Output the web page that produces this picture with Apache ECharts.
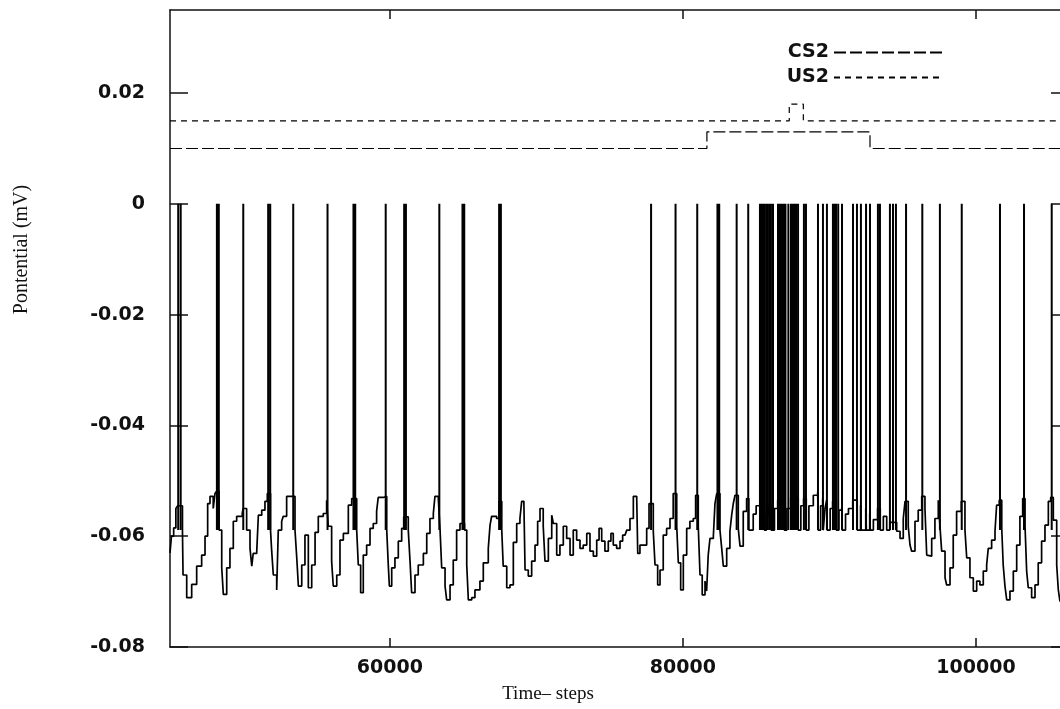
<!DOCTYPE html>
<html><head><meta charset="utf-8">
<script src="https://cdn.jsdelivr.net/npm/echarts@6/dist/echarts.min.js"></script>
<style>html,body{margin:0;padding:0;background:#fff;overflow:hidden}#c{width:1069px;height:709px}</style>
</head><body><div id="c"></div>
<script>
const xTicks = [60000, 80000, 100000];
const yTicks = [-0.08, -0.06, -0.04, -0.02, 0, 0.02];
const spikeTop = 0;
const spikeReset = -0.0589;
const spikeTimes = [45560, 45730, 48200, 48330, 50000, 51700, 51840, 53410, 55750, 57520, 57640, 59720,
  60980, 61100, 63380, 64960, 65080, 67460, 67580, 77830, 79500, 80980, 82360, 82480, 83670, 84460,
  85260, 85330, 85400, 85470, 85530, 85600, 85740, 85880, 85950, 86010, 86150, 86490, 86560, 86630, 86700,
  86760, 86830, 86900, 87000, 87200, 87380, 87450, 87510, 87580, 87650, 87720, 87860, 88260, 88400,
  89220, 89560, 89830, 90240, 90350, 90450, 90600, 90860, 91610, 91880, 92150, 92500, 92770, 93310, 93450,
  94130, 94340, 94540, 95230, 96340, 97540, 99030, 101640, 103280, 105170];
const trace = [
[45000,-0.0630],[45100,-0.0600],[45250,-0.0585],[45400,-0.0550],[45530,-0.0545],
[45850,-0.0589],[45890,-0.0670],[46140,-0.0711],[46480,-0.0687],[46820,-0.0654],[47160,-0.0634],[47390,-0.0600],[47570,-0.0541],[47730,-0.0528],[47950,-0.0550],[48070,-0.0523],[48180,-0.0519],
[48350,-0.0589],[48530,-0.0657],[48640,-0.0705],[48870,-0.0657],[49090,-0.0622],[49320,-0.0573],[49550,-0.0564],[49930,-0.0559],[49990,-0.0550],
[50230,-0.0589],[50460,-0.0622],[50580,-0.0654],[50680,-0.0631],[50920,-0.0627],[51030,-0.0562],[51260,-0.0553],[51480,-0.0537],[51640,-0.0523],
[51860,-0.0589],[51940,-0.0627],[52050,-0.0670],[52280,-0.0697],[52390,-0.0589],[52620,-0.0573],[52730,-0.0564],[52960,-0.0528],[53300,-0.0528],
[53530,-0.0589],[53650,-0.0639],[53760,-0.0690],[53990,-0.0652],[54210,-0.0598],[54440,-0.0693],[54670,-0.0652],[54900,-0.0593],[55120,-0.0564],[55460,-0.0559],[55690,-0.0535],
[55800,-0.0582],[56030,-0.0645],[56140,-0.0690],[56380,-0.0670],[56600,-0.0607],[56830,-0.0595],[56940,-0.0595],[57170,-0.0544],[57400,-0.0532],
[57740,-0.0589],[57850,-0.0652],[58010,-0.0702],[58190,-0.0634],[58420,-0.0616],[58650,-0.0586],[58870,-0.0577],[59100,-0.0555],[59210,-0.0530],[59560,-0.0528],
[59790,-0.0589],[59900,-0.0654],[59970,-0.0690],[60130,-0.0657],[60350,-0.0639],[60580,-0.0609],[60810,-0.0586],[60950,-0.0565],
[61260,-0.0589],[61380,-0.0645],[61490,-0.0702],[61720,-0.0670],[61940,-0.0652],[62290,-0.0631],[62520,-0.0595],[62740,-0.0568],[62970,-0.0559],[63080,-0.0528],[63310,-0.0532],
[63430,-0.0589],[63540,-0.0657],[63770,-0.0690],[63880,-0.0715],[64110,-0.0688],[64330,-0.0643],[64560,-0.0589],[64790,-0.0577],
[65100,-0.0589],[65250,-0.0652],[65360,-0.0715],[65590,-0.0711],[65810,-0.0697],[66150,-0.0681],[66380,-0.0648],[66720,-0.0622],[66840,-0.0580],[66950,-0.0564],[67290,-0.0568],[67450,-0.0537],
[67640,-0.0589],[67740,-0.0654],[67980,-0.0693],[68200,-0.0688],[68430,-0.0611],[68660,-0.0577],[68880,-0.0568],[69000,-0.0537],[69150,-0.0541],[69230,-0.0661],[69450,-0.0672],[69680,-0.0645],[69910,-0.0616],[70090,-0.0573],[70250,-0.0550],[70470,-0.0582],[70590,-0.0645],[70820,-0.0604],[71050,-0.0562],[71160,-0.0577],[71390,-0.0634],[71610,-0.0616],[71840,-0.0582],[72070,-0.0604],[72300,-0.0634],[72520,-0.0589],[72750,-0.0607],[72980,-0.0622],[73200,-0.0616],[73440,-0.0595],[73660,-0.0627],[73890,-0.0636],[74120,-0.0607],[74280,-0.0586],[74460,-0.0609],[74680,-0.0627],[74910,-0.0609],[75090,-0.0595],[75250,-0.0616],[75480,-0.0622],[75710,-0.0609],[75890,-0.0598],[76050,-0.0600],[76170,-0.0589],[76390,-0.0568],[76620,-0.0528],[76850,-0.0532],[76920,-0.0631],[77070,-0.0616],[77300,-0.0616],[77530,-0.0586],[77690,-0.0541],
[77980,-0.0591],[78100,-0.0652],[78280,-0.0688],[78440,-0.0661],[78660,-0.0598],[78890,-0.0586],[79120,-0.0568],[79340,-0.0523],
[79580,-0.0582],[79690,-0.0648],[79850,-0.0697],[80030,-0.0634],[80260,-0.0586],[80480,-0.0573],[80710,-0.0568],[80870,-0.0526],
[81050,-0.0582],[81170,-0.0670],[81320,-0.0706],[81510,-0.0681],[81620,-0.0699],[81730,-0.0634],[81850,-0.0604],[82080,-0.0600],[82190,-0.0541],[82310,-0.0523],
[82530,-0.0589],[82650,-0.0622],[82760,-0.0654],[82990,-0.0622],[83210,-0.0591],[83330,-0.0562],[83440,-0.0541],[83560,-0.0526],
[83780,-0.0586],[83900,-0.0618],[84120,-0.0555],[84350,-0.0532],
[84500,-0.0589],[84800,-0.0560],[85000,-0.0545],[85250,-0.0541],
[85560,-0.0589],[85700,-0.0560],[85860,-0.0545],
[86030,-0.0589],[86250,-0.0550],[86470,-0.0535],
[86920,-0.0589],[87100,-0.0550],[87360,-0.0530],
[87870,-0.0589],[88050,-0.0545],[88240,-0.0532],
[88420,-0.0589],[88600,-0.0545],[88900,-0.0526],[89200,-0.0520],
[89240,-0.0589],[89400,-0.0545],[89540,-0.0532],
[89580,-0.0589],[89700,-0.0550],[89810,-0.0535],
[89850,-0.0589],[90050,-0.0550],[90220,-0.0537],
[90470,-0.0589],[90650,-0.0553],[90840,-0.0548],
[90880,-0.0589],[91100,-0.0560],[91300,-0.0550],[91590,-0.0535],
[91900,-0.0589],[92130,-0.0544],
[92170,-0.0589],[92480,-0.0550],
[92520,-0.0589],[92750,-0.0559],
[92790,-0.0589],[93000,-0.0570],[93290,-0.0550],
[93470,-0.0589],[93680,-0.0564],[93910,-0.0589],[94120,-0.0575],
[94590,-0.0591],[94820,-0.0604],[95040,-0.0568],[95160,-0.0537],
[95380,-0.0582],[95500,-0.0616],[95610,-0.0627],[95840,-0.0573],[96060,-0.0553],[96300,-0.0528],
[96520,-0.0550],[96640,-0.0634],[96750,-0.0636],[96980,-0.0604],[97200,-0.0568],[97430,-0.0535],
[97550,-0.0584],[97660,-0.0627],[97890,-0.0675],[98000,-0.0688],[98230,-0.0657],[98450,-0.0598],[98680,-0.0555],[99000,-0.0537],
[99250,-0.0589],[99370,-0.0639],[99590,-0.0675],[99820,-0.0699],[100050,-0.0681],[100270,-0.0688],[100500,-0.0663],[100730,-0.0652],[100840,-0.0622],[101070,-0.0607],[101300,-0.0591],[101410,-0.0544],[101590,-0.0535],
[101760,-0.0586],[101860,-0.0652],[101980,-0.0690],[102100,-0.0715],[102320,-0.0699],[102550,-0.0663],[102780,-0.0616],[103000,-0.0564],[103190,-0.0532],
[103350,-0.0582],[103460,-0.0663],[103570,-0.0693],[103800,-0.0711],[104030,-0.0688],[104250,-0.0648],[104480,-0.0609],[104710,-0.0580],[104940,-0.0537],[105100,-0.0530],
[105280,-0.0571],[105510,-0.0652],[105620,-0.0697],[105730,-0.0717],[106000,-0.0715],[106350,-0.0690]
];
const cs2 = [[45000,0.010],[81640,0.010],[81640,0.013],[92770,0.013],[92770,0.010],[106350,0.010]];
const us2 = [[45000,0.015],[87260,0.015],[87260,0.018],[88220,0.018],[88220,0.015],[106350,0.015]];

const spikeData = [];
spikeTimes.forEach(function (s) {
  spikeData.push([s, spikeReset], [s, spikeTop], [s, '-']);
});

const ink = '#111';
const tickFont = {fontFamily: 'DejaVu Sans', fontWeight: 'bold', fontSize: 19, color: ink};
function xAx(pos, show) {
  return {
    type: 'value', min: 45000, max: 106350, position: pos,
    axisLine: {show: true, onZero: false, lineStyle: {color: ink, width: 1.5}},
    axisTick: {show: true, inside: true, length: 9, customValues: xTicks, lineStyle: {color: ink, width: 1.5}},
    axisLabel: Object.assign({show: show, customValues: xTicks, margin: 12, formatter: function (v) { return String(v); }}, tickFont),
    splitLine: {show: false}
  };
}
function yAx(pos, show) {
  return {
    type: 'value', min: -0.08, max: 0.035, position: pos,
    axisLine: {show: true, onZero: false, lineStyle: {color: ink, width: 1.5}},
    axisTick: {show: true, inside: true, length: 18, customValues: yTicks, lineStyle: {color: ink, width: 1.5}},
    axisLabel: Object.assign({show: show, customValues: yTicks, margin: 25, formatter: function (v) { return String(+v.toFixed(2)); }}, tickFont),
    splitLine: {show: false}
  };
}
const xa = xAx('bottom', true);
xa.name = 'Time\u2013 steps';
xa.nameLocation = 'middle';
xa.nameGap = 38;
xa.nameTextStyle = {fontFamily: 'Liberation Serif', fontSize: 19, color: ink, padding: [0, 143, 0, 0]};
const ya = yAx('left', true);
ya.name = 'Pontential (mV)';
ya.nameLocation = 'middle';
ya.nameGap = 138;
ya.nameTextStyle = {fontFamily: 'Liberation Serif', fontSize: 20, color: ink, padding: [0, 0, 0, 158]};

const chart = echarts.init(document.getElementById('c'), null, {renderer: 'canvas'});
chart.setOption({
  animation: false,
  backgroundColor: '#fff',
  grid: {left: 170, top: 10, right: 0, bottom: 61},
  legend: {
    data: ['CS2', 'US2'], orient: 'vertical', right: 119, top: 38, align: 'right',
    itemWidth: 110, itemHeight: 14, itemGap: 6, selectedMode: false,
    itemStyle: {opacity: 0},
    textStyle: {fontFamily: 'DejaVu Sans', fontWeight: 'bold', fontSize: 19, color: ink}
  },
  xAxis: [xa, xAx('top', false)],
  yAxis: [ya, yAx('right', false)],
  series: [
    {type: 'line', data: trace, symbol: 'none', step: 'end', lineStyle: {color: '#000', width: 1.7}, itemStyle: {color: '#000'}, silent: true},
    {type: 'line', data: spikeData, symbol: 'none', connectNulls: false, lineStyle: {color: '#000', width: 2}, itemStyle: {color: '#000'}, silent: true},
    {name: 'CS2', type: 'line', data: cs2, symbol: 'none', lineStyle: {color: '#000', width: 1.2, type: [12, 4]}, itemStyle: {color: '#000'}, silent: true},
    {name: 'US2', type: 'line', data: us2, symbol: 'none', lineStyle: {color: '#000', width: 1.2, type: [6, 5]}, itemStyle: {color: '#000'}, silent: true}
  ]
});
</script></body></html>
